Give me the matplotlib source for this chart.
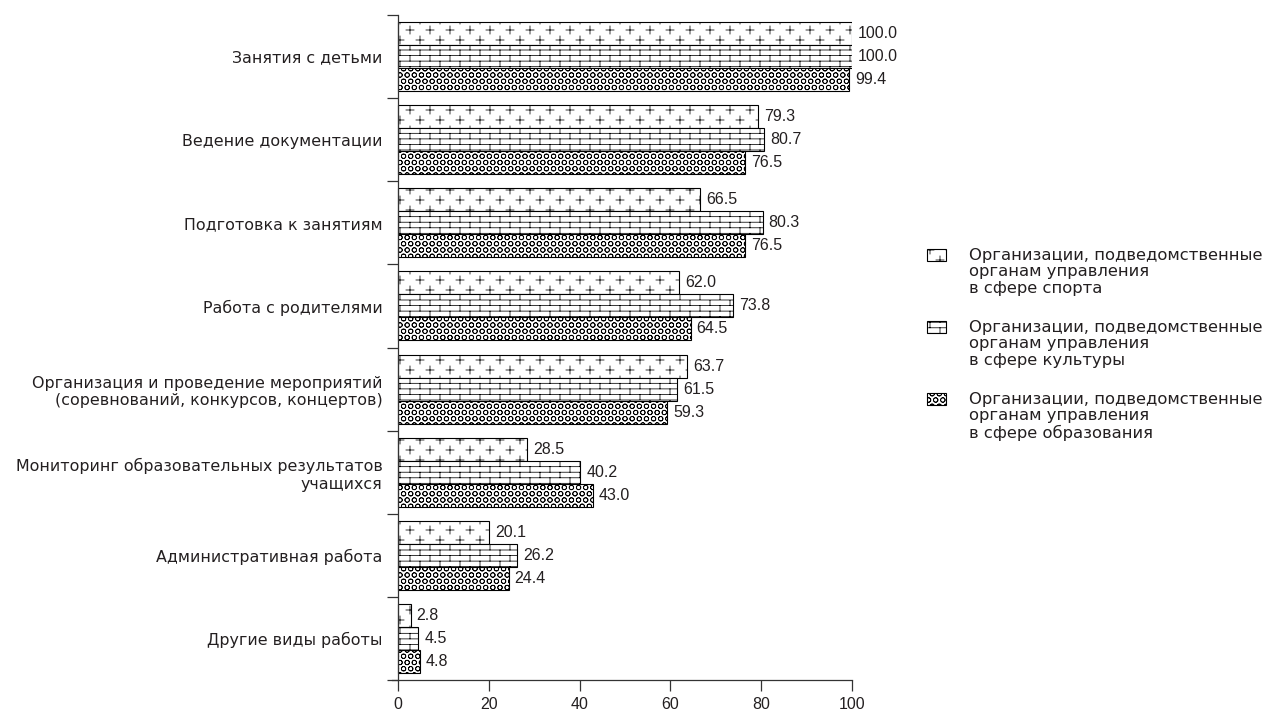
import numpy as np
import matplotlib
matplotlib.use('Agg')
import matplotlib.pyplot as plt
import matplotlib.hatch as mhatch
from matplotlib.path import Path
from matplotlib.patches import Rectangle

categories = [
    "Занятия с детьми",
    "Ведение документации",
    "Подготовка к занятиям",
    "Работа с родителями",
    "Организация и проведение мероприятий\n(соревнований, конкурсов, концертов)",
    "Мониторинг образовательных результатов\nучащихся",
    "Административная работа",
    "Другие виды работы",
]
sport = [100.0, 79.3, 66.5, 62.0, 63.7, 28.5, 20.1, 2.8]
culture = [100.0, 80.7, 80.3, 73.8, 61.5, 40.2, 26.2, 4.5]
education = [99.4, 76.5, 76.5, 64.5, 59.3, 43.0, 24.4, 4.8]
series_labels = [
    "Организации, подведомственные\nорганам управления\nв сфере спорта",
    "Организации, подведомственные\nорганам управления\nв сфере культуры",
    "Организации, подведомственные\nорганам управления\nв сфере образования",
]
xticks = [0, 20, 40, 60, 80, 100]


# ---- custom hatch patterns (plus signs, bricks, small rings) ----
def _stagger_xs(r, cols):
    if r % 2 == 0:
        return [j / cols for j in range(cols + 1)]
    return [(j + 0.5) / cols for j in range(cols)]


class PlusHatch(mhatch.HatchPatternBase):
    rows, cols, arm = 10, 5, 0.04

    def __init__(self, hatch, density):
        n = 0
        if '*' in hatch:
            for r in range(self.rows + 1):
                n += len(_stagger_xs(r, self.cols))
        self.num_vertices = n * 4

    def set_vertices_and_codes(self, vertices, codes):
        pts, cds = [], []
        a = self.arm
        for r in range(self.rows + 1):
            y = r / self.rows
            for x in _stagger_xs(r, self.cols):
                pts += [(x - a, y), (x + a, y), (x, y - a), (x, y + a)]
                cds += [Path.MOVETO, Path.LINETO, Path.MOVETO, Path.LINETO]
        vertices[:] = np.array(pts)
        codes[:] = np.array(cds, dtype=Path.code_type)


class BrickHatch(mhatch.HatchPatternBase):
    rows, cols = 18, 5

    def __init__(self, hatch, density):
        n = 0
        if '.' in hatch:
            n += (self.rows + 1) * 2
            for r in range(self.rows):
                n += len(_stagger_xs(r, self.cols)) * 2
        self.num_vertices = n

    def set_vertices_and_codes(self, vertices, codes):
        pts, cds = [], []
        for r in range(self.rows + 1):
            y = r / self.rows
            pts += [(0.0, y), (1.0, y)]
            cds += [Path.MOVETO, Path.LINETO]
        for r in range(self.rows):
            y0, y1 = r / self.rows, (r + 1) / self.rows
            for x in _stagger_xs(r, self.cols):
                pts += [(x, y0), (x, y1)]
                cds += [Path.MOVETO, Path.LINETO]
        vertices[:] = np.array(pts)
        codes[:] = np.array(cds, dtype=Path.code_type)


class CircleHatch(mhatch.HatchPatternBase):
    rows, cols, radius = 16, 14, 0.023

    def __init__(self, hatch, density):
        circ = Path.unit_circle()
        # ring: outer circle forward, inner circle backward (hollow when filled)
        self.cv = np.concatenate([circ.vertices, circ.vertices[::-1] * 0.9])
        self.cc = np.concatenate([circ.codes, circ.codes])
        n = 0
        if 'o' in hatch:
            for r in range(self.rows + 1):
                n += len(_stagger_xs(r, self.cols))
        self.num_vertices = n * len(self.cv)

    def set_vertices_and_codes(self, vertices, codes):
        vp, cp = [], []
        for r in range(self.rows + 1):
            y = r / self.rows
            for x in _stagger_xs(r, self.cols):
                vp.append(self.cv * self.radius + [x, y])
                cp.append(self.cc)
        vertices[:] = np.concatenate(vp)
        codes[:] = np.concatenate(cp)


mhatch._hatch_types[:] = [PlusHatch, BrickHatch, CircleHatch]

plt.rcParams['hatch.linewidth'] = 0.55
plt.rcParams['font.family'] = ['DejaVu Sans']

label_font = ['DejaVu Sans']
num_font = ['Liberation Sans', 'DejaVu Sans']
text_color = '#231f20'
axis_color = '#333333'

fig = plt.figure(figsize=(12.7, 7.11), dpi=100)
W, H = 1270, 711
ax = fig.add_axes([392 / W, (H - 680) / H, (852 - 392) / W, (680 - 15) / H])

y = np.arange(len(categories))
h = 0.277
series = [sport, culture, education]
hatches = ['*', '.', 'o']

for k, (vals, hp) in enumerate(zip(series, hatches)):
    pos = y + (k - 1) * h
    ax.barh(pos, vals, height=h, facecolor='white', edgecolor='black',
            linewidth=0.8, hatch=hp, zorder=2)
    for yy, v in zip(pos, vals):
        ax.text(v + 1.3, yy, f"{v:.1f}", va='center', ha='left',
                fontsize=11.5, family=num_font, color=text_color)

ax.set_xlim(-1.3, 100)
ax.set_ylim(len(categories) - 0.5, -0.5)

ax.spines['top'].set_visible(False)
ax.spines['right'].set_visible(False)
ax.spines['left'].set_position(('data', 0))
for s in ['left', 'bottom']:
    ax.spines[s].set_linewidth(0.9)
    ax.spines[s].set_color(axis_color)

ax.set_xticks(xticks)
ax.set_xticklabels([str(t) for t in xticks], family=num_font, fontsize=11.5,
                   color=text_color)
ax.tick_params(axis='x', length=8, width=0.9, pad=4, color=axis_color)

ax.set_yticks(np.arange(-0.5, len(categories), 1.0))
ax.set_yticklabels([])
ax.set_yticks(y, minor=True)
ax.set_yticklabels(categories, minor=True, family=label_font, fontsize=11.4,
                   color=text_color)
ax.tick_params(axis='y', which='major', length=8, width=0.9, color=axis_color)
ax.tick_params(axis='y', which='minor', length=0, pad=11)

# legend (manual, handles aligned with the first text line)
leg_tops = [249, 321, 393]
for lab, hp, top in zip(series_labels, hatches, leg_tops):
    r = Rectangle((927 / W, (H - top - 12) / H), 19 / W, 12 / H,
                  transform=fig.transFigure, facecolor='white',
                  edgecolor='black', linewidth=0.8, hatch=hp)
    fig.add_artist(r)
    fig.text(969 / W, (H - top + 1) / H, lab, va='top', ha='left',
             family=label_font, fontsize=11.8, color=text_color,
             linespacing=1.12)

fig.savefig('out.png', dpi=100)
